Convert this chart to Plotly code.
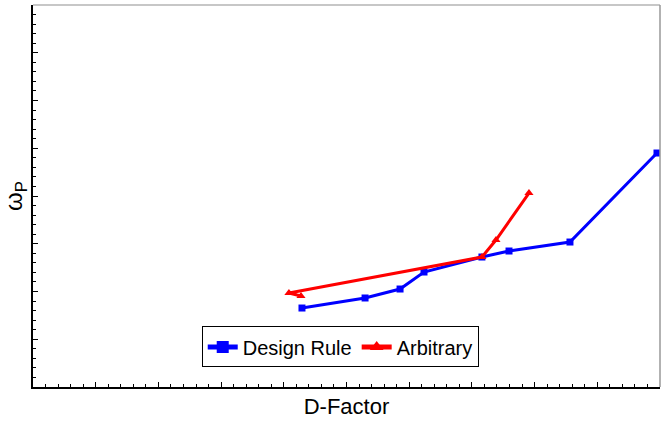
import plotly.graph_objects as go

# Data (arbitrary units, axes have no labels)
design_x = [21.45, 26.48, 29.27, 31.18, 35.8, 37.96, 42.82, 49.76]
design_y = [8.27, 9.32, 10.26, 12.04, 13.61, 14.24, 15.18, 24.5]
arb_x = [21.37, 20.41, 35.8, 36.92, 39.55]
arb_y = [9.53, 9.84, 13.61, 15.39, 20.31]

fig = go.Figure()
fig.add_trace(go.Scatter(x=design_x, y=design_y, mode="lines+markers", name="Design Rule",
                         line=dict(color="#0000ff", width=3),
                         marker=dict(symbol="square", size=7, color="#0000ff")))
fig.add_trace(go.Scatter(x=arb_x, y=arb_y, mode="lines+markers", name="Arbitrary",
                         line=dict(color="#ff0000", width=3),
                         marker=dict(symbol="triangle-up", size=8, color="#ff0000")))

axis_common = dict(showgrid=False, zeroline=False, showticklabels=False,
                   showline=True, linecolor="black", linewidth=1.5,
                   ticks="inside", ticklen=5, tickcolor="black", tickwidth=1,
                   minor=dict(ticks="inside", ticklen=3, dtick=1, tickcolor="black", showgrid=False))

fig.update_xaxes(range=[0, 50], dtick=5, tick0=0,
                 title=dict(text="D-Factor", font=dict(size=22, color="black"), standoff=11),
                 **axis_common)
fig.update_yaxes(range=[0, 40], dtick=5, tick0=0,
                 title=dict(text="ω<sub>P</sub>", font=dict(size=24, color="black"), standoff=4),
                 **axis_common)

# frame: top and right borders
fig.add_shape(type="line", xref="paper", yref="paper", x0=0, x1=1, y0=1, y1=1,
              line=dict(color="#b4b4b4", width=1.5))
fig.add_shape(type="line", xref="paper", yref="paper", x0=1, x1=1, y0=0, y1=1,
              line=dict(color="#999999", width=1.5))

fig.update_layout(
    width=668, height=422,
    margin=dict(l=33, r=8, t=5, b=35),
    paper_bgcolor="white", plot_bgcolor="white",
    font=dict(family="Liberation Sans, Arial, sans-serif", color="black"),
    showlegend=True,
    legend=dict(orientation="h", x=0.49, y=0.105, xanchor="center", yanchor="middle",
                bordercolor="black", borderwidth=1, bgcolor="white",
                font=dict(size=20, color="black"), itemwidth=30,
                tracegroupgap=0, itemsizing="constant"),
)

fig.write_html("out.html")
